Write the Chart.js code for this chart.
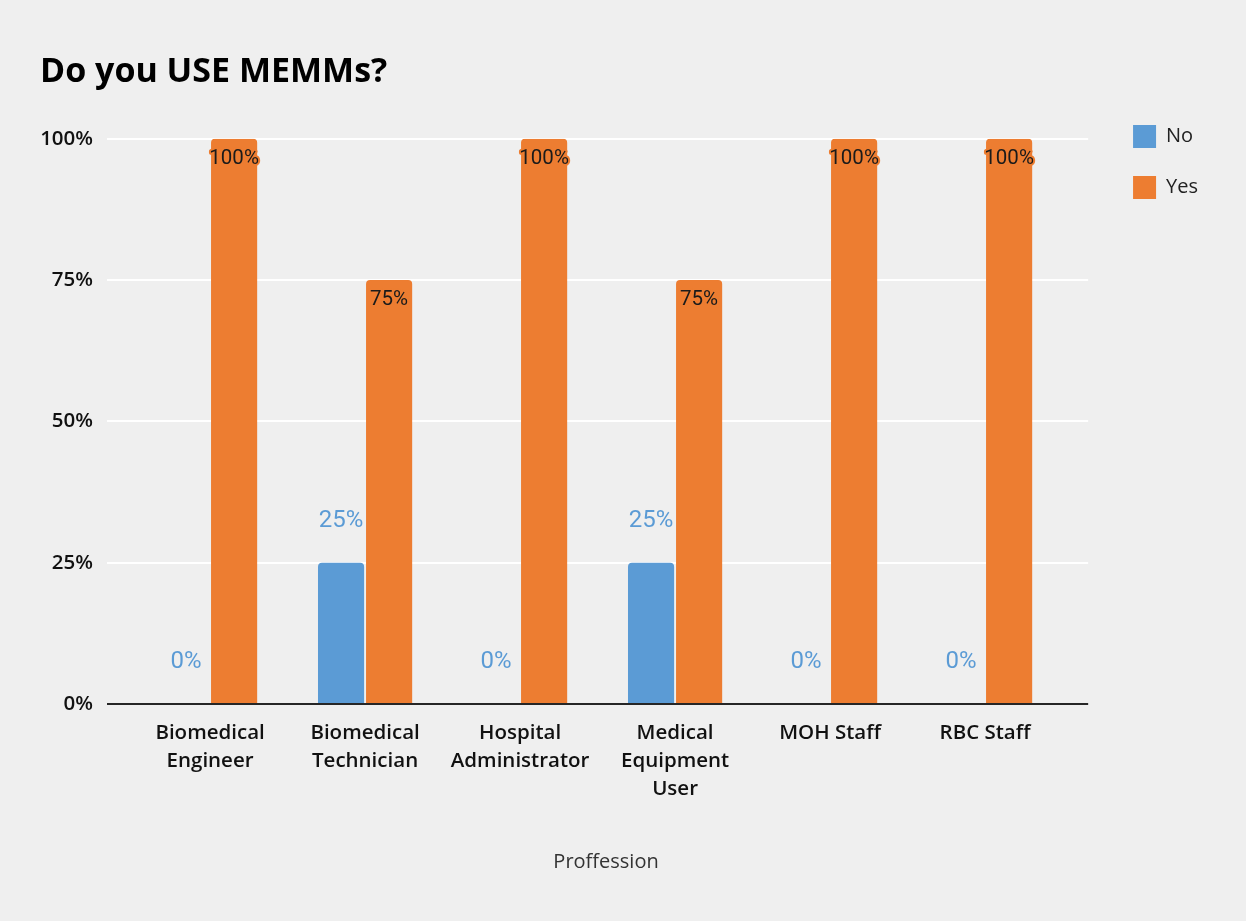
<!DOCTYPE html>
<html>
<head>
<meta charset="utf-8">
<script src="https://cdn.jsdelivr.net/npm/chart.js@4.4.1/dist/chart.umd.min.js"></script>
<style>
  html, body { margin: 0; padding: 0; background: #efefef; }
  #wrap { width: 1246px; height: 921px; }
</style>
</head>
<body>
<div id="wrap"><canvas id="chart"></canvas></div>
<script>
const CATEGORIES = [
  ['Biomedical', 'Engineer'],
  ['Biomedical', 'Technician'],
  ['Hospital', 'Administrator'],
  ['Medical', 'Equipment', 'User'],
  ['MOH Staff'],
  ['RBC Staff']
];
const NO_VALUES = [0, 25, 0, 25, 0, 0];
const YES_VALUES = [100, 75, 100, 75, 100, 100];
const Y_TICKS = [0, 25, 50, 75, 100];

const BLUE = '#5b9bd5';
const ORANGE = '#ed7d31';
const FONT = "'Open Sans', 'Noto Sans', sans-serif";

// grid lines run a bit past the first / last category
const gridLines = {
  id: 'gridLines',
  beforeDatasetsDraw(chart) {
    const { ctx, scales: { x, y } } = chart;
    const x0 = x.getPixelForValue(-0.665), x1 = x.getPixelForValue(5.665);
    ctx.save();
    ctx.lineWidth = 2;
    ctx.strokeStyle = '#ffffff';
    Y_TICKS.forEach(v => {
      if (v === 0) return;
      const py = Math.round(y.getPixelForValue(v));
      ctx.beginPath(); ctx.moveTo(x0, py); ctx.lineTo(x1, py); ctx.stroke();
    });
    ctx.restore();
  },
  afterDatasetsDraw(chart) {
    const { ctx, scales: { x, y } } = chart;
    const x0 = x.getPixelForValue(-0.665), x1 = x.getPixelForValue(5.665);
    const py = Math.round(y.getPixelForValue(0));
    ctx.save();
    ctx.lineWidth = 2;
    ctx.strokeStyle = '#262626';
    ctx.beginPath(); ctx.moveTo(x0, py); ctx.lineTo(x1, py); ctx.stroke();
    ctx.restore();
  }
};

const barLabels = {
  id: 'barLabels',
  afterDatasetsDraw(chart) {
    const { ctx } = chart;
    ctx.save();
    ctx.textAlign = 'center';
    ctx.textBaseline = 'middle';
    chart.data.datasets.forEach((ds, di) => {
      chart.getDatasetMeta(di).data.forEach((bar, i) => {
        const txt = ds.data[i].y + '%';
        if (di === 0) {
          ctx.font = "24px Roboto, sans-serif";
          ctx.fillStyle = BLUE;
          ctx.fillText(txt, bar.x, bar.y - 42);
        } else {
          ctx.font = "20.5px Roboto, sans-serif";
          ctx.lineWidth = 4;
          ctx.lineJoin = 'round';
          ctx.strokeStyle = ORANGE;
          ctx.strokeText(txt, bar.x, bar.y + 20);
          ctx.fillStyle = '#1a1a1a';
          ctx.fillText(txt, bar.x, bar.y + 20);
        }
      });
    });
    ctx.restore();
  }
};

const toPoints = vals => vals.map((v, i) => ({ x: i, y: v }));

new Chart(document.getElementById('chart'), {
  type: 'bar',
  data: {
    datasets: [
      { label: 'No', data: toPoints(NO_VALUES), backgroundColor: BLUE, borderRadius: 4,
        categoryPercentage: 0.62, barPercentage: 0.96 },
      { label: 'Yes', data: toPoints(YES_VALUES), backgroundColor: ORANGE, borderRadius: 4,
        categoryPercentage: 0.62, barPercentage: 0.96 }
    ]
  },
  options: {
    responsive: true,
    maintainAspectRatio: false,
    animation: false,
    layout: { autoPadding: false, padding: { top: 52, left: 40, right: 38, bottom: 47 } },
    plugins: {
      title: {
        display: true, text: 'Do you USE MEMMs?', align: 'start', color: '#000',
        font: { family: FONT, size: 34, weight: 'bold' }, padding: { top: 0, bottom: 46 }
      },
      legend: {
        position: 'right', align: 'start',
        title: { display: true, text: '', padding: 0, font: { size: 45, lineHeight: 1 } },
        labels: { boxWidth: 23, boxHeight: 23, padding: 28, color: '#222', font: { family: FONT, size: 20 } }
      },
      tooltip: { enabled: false }
    },
    scales: {
      x: {
        type: 'linear', offset: false, min: -0.665, max: 5.774,
        afterBuildTicks: s => { s.ticks = CATEGORIES.map((c, i) => ({ value: i })); },
        afterFit: s => { s.paddingLeft = 0; s.paddingRight = 0; },
        grid: { display: false, drawTicks: false },
        border: { display: false },
        ticks: {
          autoSkip: false, maxRotation: 0, padding: 15, color: '#111',
          font: { family: FONT, size: 20.5, weight: 600, lineHeight: 28 / 20.5 },
          callback: v => CATEGORIES[v]
        },
        title: {
          display: true, text: 'Proffession', color: '#333',
          font: { family: FONT, size: 20 }, padding: { top: 32, bottom: 0 }
        }
      },
      y: {
        min: 0, max: 100,
        afterBuildTicks: s => { s.ticks = Y_TICKS.map(v => ({ value: v })); },
        afterFit: s => { s.width = 67; },
        grid: { display: false, drawTicks: false },
        border: { display: false },
        ticks: {
          padding: 14, color: '#111',
          font: { family: FONT, size: 20.5, weight: 600 },
          callback: v => v + '%'
        }
      }
    }
  },
  plugins: [gridLines, barLabels]
});
</script>
</body>
</html>
